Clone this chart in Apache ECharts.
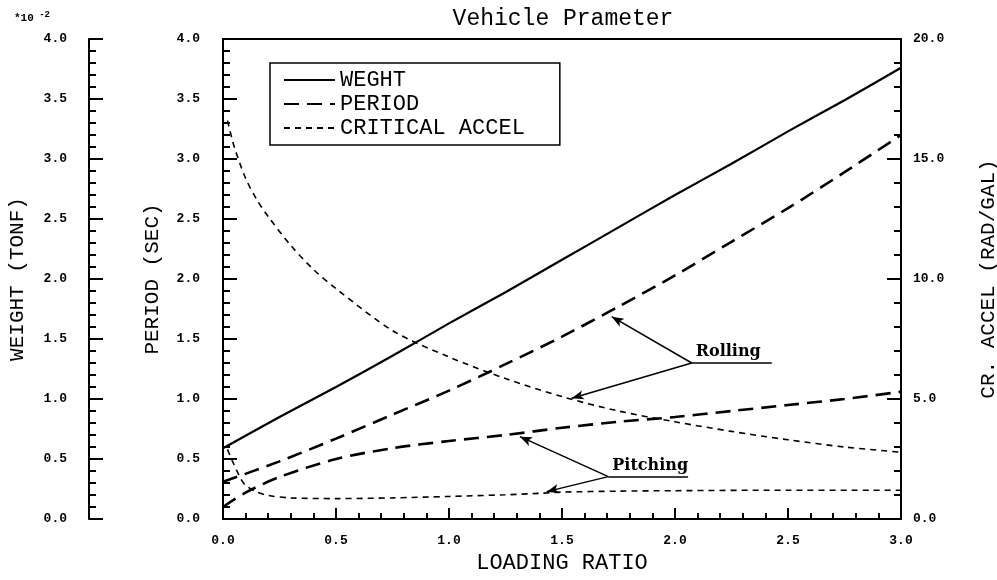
<!DOCTYPE html>
<html>
<head>
<meta charset="utf-8">
<script src="https://cdn.jsdelivr.net/npm/echarts@6/dist/echarts.min.js"></script>
<style>
  html, body { margin: 0; padding: 0; background: #fff; }
  #main { width: 997px; height: 580px; }
</style>
</head>
<body>
<div id="main"></div>
<script>
// x values (loading ratio) and read-off curves
const ratio = [0, 0.25, 0.5, 0.75, 1.0, 1.25, 1.5, 1.75, 2.0, 2.25, 2.5, 2.75, 3.0]
const weight = [0.59, 0.85, 1.1, 1.36, 1.63, 1.89, 2.16, 2.43, 2.7, 2.96, 3.23, 3.49, 3.76] // x10^-2 tonf
const periodRolling = [0.31, 0.48, 0.67, 0.87, 1.07, 1.29, 1.52, 1.77, 2.03, 2.31, 2.59, 2.89, 3.2]

const ratioPitch = [0, 0.1, 0.25, 0.5, 0.75, 1.0, 1.25, 1.5, 1.75, 2.0, 2.25, 2.5, 2.75, 3.0]
const periodPitching = [0.1, 0.22, 0.35, 0.5, 0.59, 0.65, 0.7, 0.76, 0.81, 0.85, 0.9, 0.95, 1.0, 1.06]

const ratioAccelR = [0.02, 0.05, 0.1, 0.15, 0.2, 0.3, 0.4, 0.5, 0.75, 1.0, 1.25, 1.5, 1.75, 2.0, 2.25, 2.5, 2.75, 3.0]
const accelRolling = [16.6, 15.5, 14.2, 13.3, 12.6, 11.4, 10.4, 9.6, 7.85, 6.75, 5.85, 5.1, 4.5, 4.05, 3.65, 3.3, 3.0, 2.78]

const ratioAccelP = [0.02, 0.04, 0.06, 0.08, 0.1, 0.15, 0.2, 0.3, 0.5, 0.75, 1.0, 1.25, 1.4, 1.5, 1.75, 2.0, 2.5, 3.0]
const accelPitching = [2.9, 2.45, 2.04, 1.65, 1.4, 1.13, 0.98, 0.88, 0.85, 0.88, 0.94, 1.01, 1.07, 1.12, 1.16, 1.18, 1.2, 1.2]

// annotation points, in (ratio, period) coords
const rollingLabel = [[2.074, 1.3], [2.428, 1.3]]
const rollingTips = [[1.72, 1.686], [1.543, 1.006]]
const pitchingLabel = [[1.705, 0.353], [2.058, 0.353]]
const pitchingTips = [[1.314, 0.686], [1.432, 0.228]]

const pairs = (xs, ys) => xs.map((x, i) => [x, ys[i]])

const mono = "'Liberation Mono', 'DejaVu Sans Mono', monospace"
const black = '#000'

const tickLabel = {
  color: black,
  fontFamily: mono,
  fontWeight: 'bold',
  fontSize: 13,
  formatter: v => v.toFixed(1)
}

const yCommon = {
  type: 'value',
  nameLocation: 'middle',
  nameRotate: 90,
  nameTextStyle: { color: black, fontFamily: mono, fontSize: 21 },
  axisLine: { show: true, lineStyle: { color: black, width: 2 } },
  axisTick: { show: true, inside: true, length: 14, lineStyle: { color: black, width: 2 } },
  minorTick: { show: true, splitNumber: 5, length: 7, lineStyle: { color: black, width: 2 } },
  splitLine: { show: false }
}

function arrowLines (from, tips) {
  return tips.map(t => [{ coord: from }, { coord: t }])
}

const labelStyle = {
  show: true,
  position: 'insideStartTop',
  distance: [4, 3],
  color: black,
  fontFamily: "'DejaVu Serif', serif",
  fontWeight: 'bold',
  fontSize: 16
}

const chart = echarts.init(document.getElementById('main'))
chart.setOption({
  backgroundColor: '#fff',
  animation: false,
  title: {
    text: 'Vehicle Prameter',
    left: 558,
    top: 2,
    textAlign: 'center',
    textStyle: { color: black, fontFamily: mono, fontWeight: 'normal', fontSize: 23 }
  },
  legend: {
    orient: 'vertical',
    left: 270,
    top: 63,
    padding: [6, 35, 6, 13],
    itemWidth: 51,
    itemHeight: 14,
    itemGap: 2,
    borderColor: black,
    borderWidth: 1.5,
    itemStyle: { color: 'rgba(0,0,0,0)', borderWidth: 0, opacity: 0 },
    textStyle: { color: black, fontFamily: mono, fontSize: 22, lineHeight: 22 },
    data: ['WEGHT', 'PERIOD', 'CRITICAL ACCEL']
  },
  graphic: [{
    type: 'text',
    left: 14,
    top: 10,
    style: {
      text: '{a|*10}{b| -2}',
      rich: {
        a: { fontFamily: mono, fontWeight: 'bold', fontSize: 11, fill: black },
        b: { fontFamily: mono, fontWeight: 'bold', fontSize: 9, fill: black, verticalAlign: 'top', padding: [0, 0, 8, 0] }
      }
    }
  }],
  grid: {
    left: 223,
    right: 96,
    top: 39,
    bottom: 61,
    outerBoundsMode: 'none',
    containLabel: false,
    show: true,
    borderColor: black,
    borderWidth: 2
  },
  xAxis: {
    type: 'value',
    min: 0,
    max: 3,
    interval: 0.5,
    name: 'LOADING RATIO',
    nameLocation: 'middle',
    nameGap: 33,
    nameTextStyle: { color: black, fontFamily: mono, fontSize: 22 },
    axisLine: { lineStyle: { color: black, width: 2 } },
    axisTick: { inside: true, length: 11, lineStyle: { color: black, width: 2 } },
    minorTick: { show: true, splitNumber: 5, length: 6, lineStyle: { color: black, width: 2 } },
    splitLine: { show: false },
    axisLabel: Object.assign({}, tickLabel, { margin: 15 })
  },
  yAxis: [
    Object.assign({}, yCommon, {
      name: 'PERIOD (SEC)',
      position: 'left',
      min: 0,
      max: 4,
      interval: 0.5,
      nameGap: 60,
      axisLabel: Object.assign({}, tickLabel, { margin: 23 })
    }),
    Object.assign({}, yCommon, {
      name: 'WEIGHT (TONF)',
      position: 'left',
      offset: 134,
      min: 0,
      max: 4,
      interval: 0.5,
      nameGap: 61,
      axisLabel: Object.assign({}, tickLabel, { margin: 22 })
    }),
    Object.assign({}, yCommon, {
      name: 'CR. ACCEL (RAD/GAL)',
      position: 'right',
      min: 0,
      max: 20,
      interval: 5,
      nameGap: 77,
      axisLabel: Object.assign({}, tickLabel, { margin: 12 })
    })
  ],
  series: [
    {
      name: 'WEGHT',
      type: 'line',
      yAxisIndex: 1,
      smooth: 0.3,
      symbol: 'none',
      lineStyle: { color: black, width: 2.2, type: 'solid' },
      itemStyle: { color: black },
      data: pairs(ratio, weight)
    },
    {
      name: 'PERIOD',
      type: 'line',
      yAxisIndex: 0,
      smooth: 0.3,
      symbol: 'none',
      lineStyle: { color: black, width: 2.6, type: [15, 8] },
      itemStyle: { color: black },
      data: pairs(ratio, periodRolling),
      markLine: {
        silent: true,
        symbol: ['none', 'arrow'],
        symbolSize: [7, 12],
        lineStyle: { color: black, width: 1.5, type: 'solid' },
        label: { show: false },
        data: arrowLines(rollingLabel[0], rollingTips)
          .concat(arrowLines(pitchingLabel[0], pitchingTips))
          .concat([
            [{ coord: rollingLabel[0], symbol: 'none', label: Object.assign({ formatter: 'Rolling' }, labelStyle) }, { coord: rollingLabel[1], symbol: 'none' }],
            [{ coord: pitchingLabel[0], symbol: 'none', label: Object.assign({ formatter: 'Pitching' }, labelStyle) }, { coord: pitchingLabel[1], symbol: 'none' }]
          ])
      }
    },
    {
      name: 'PERIOD',
      type: 'line',
      yAxisIndex: 0,
      smooth: 0.3,
      symbol: 'none',
      lineStyle: { color: black, width: 2.6, type: [15, 8] },
      itemStyle: { color: black },
      data: pairs(ratioPitch, periodPitching)
    },
    {
      name: 'CRITICAL ACCEL',
      type: 'line',
      yAxisIndex: 2,
      smooth: 0.3,
      symbol: 'none',
      lineStyle: { color: black, width: 1.6, type: [6, 5] },
      itemStyle: { color: black },
      data: pairs(ratioAccelR, accelRolling)
    },
    {
      name: 'CRITICAL ACCEL',
      type: 'line',
      yAxisIndex: 2,
      smooth: 0.3,
      symbol: 'none',
      lineStyle: { color: black, width: 1.6, type: [6, 5] },
      itemStyle: { color: black },
      data: pairs(ratioAccelP, accelPitching)
    }
  ]
})
</script>
</body>
</html>
